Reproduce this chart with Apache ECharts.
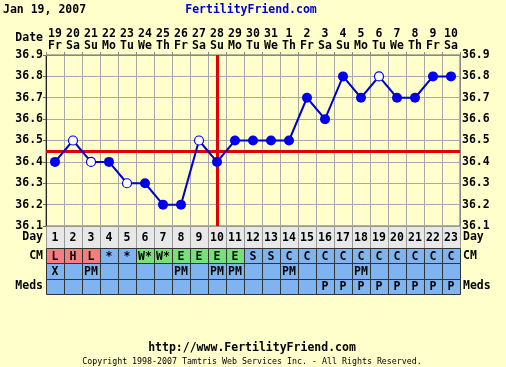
<!DOCTYPE html>
<html><head><meta charset="utf-8">
<script src="https://cdn.jsdelivr.net/npm/echarts@6/dist/echarts.min.js"></script>
<style>html,body{margin:0;padding:0;background:#ffffcc}#c{width:506px;height:367px}</style>
</head><body><div id="c"></div>
<script>
// ---- data ----
const dates = ['19','20','21','22','23','24','25','26','27','28','29','30','31','1','2','3','4','5','6','7','8','9','10'];
const weekdays = ['Fr','Sa','Su','Mo','Tu','We','Th','Fr','Sa','Su','Mo','Tu','We','Th','Fr','Sa','Su','Mo','Tu','We','Th','Fr','Sa'];
const cycleDays = ['1','2','3','4','5','6','7','8','9','10','11','12','13','14','15','16','17','18','19','20','21','22','23'];
const temps = [36.4,36.5,36.4,36.4,36.3,36.3,36.2,36.2,36.5,36.4,36.5,36.5,36.5,36.5,36.7,36.6,36.8,36.7,36.8,36.7,36.7,36.8,36.8];
const openDays = [2,3,5,9,19];
const cm = ['L','H','L','*','*','W*','W*','E','E','E','E','S','S','C','C','C','C','C','C','C','C','C','C'];
const bd = ['X','','PM','','','','','PM','','PM','PM','','','PM','','','','PM','','','','',''];
const meds = ['','','','','','','','','','','','','','','','P','P','P','P','P','P','P','P'];
const tableRows = ['CM','BD','Meds'];
const yTicks = {min:36.1, max:36.9, step:0.1};
const coverline = 36.45;
const ovulationIndex = 9;

// ---- styles ----
const FONT = '"DejaVu Sans Mono", monospace';
const FS = 11.5;
const bold = {fontFamily: FONT, fontWeight: 'bold', fontSize: FS, color: '#000'};
const cmColor = {'L':'#f08080','H':'#f08080','*':'#80b4f0','W*':'#78e078','E':'#78e078','S':'#80b4f0','C':'#80b4f0'};
const BLUE = '#80b4f0';

const dayCells = cycleDays.map((d,i)=>({text:d, fill:'#e8e8e8', stroke:'#999'}));
const tableCells = [];
[cm, bd, meds].forEach((row, r) => row.forEach((t, i) => {
  tableCells.push({col:i, row:r, text:t, fill: r===0 ? (cmColor[t]||BLUE) : BLUE, stroke:'#333'});
}));

function cellRender(cells){
  return function(params, api){
    const cell = cells[params.dataIndex];
    const c = api.coord([api.value(0), api.value(1)]);
    const s = api.size([1,1]);
    const x0 = Math.round(c[0]-s[0]/2)+0.5, y0 = Math.round(c[1]-s[1]/2)+0.5;
    const x1 = Math.round(c[0]+s[0]/2)+0.5, y1 = Math.round(c[1]+s[1]/2)+0.5;
    return {type:'group', children:[
      {type:'rect', shape:{x:x0, y:y0, width:x1-x0, height:y1-y0}, style:{fill:cell.fill, stroke:cell.stroke, lineWidth:1}},
      {type:'text', x:c[0], y:c[1]+1, style:{text:cell.text, align:'center', verticalAlign:'middle', font:'bold '+FS+'px '+FONT, fill:'#000'}}
    ]};
  };
}

const lineData = temps.map((v,i)=>{
  const open = openDays.indexOf(i+1) >= 0;
  return {value:v, symbolSize: open ? 9 : 10,
    itemStyle: open ? {color:'#ffffff', borderColor:'#0000ee', borderWidth:1.2} : {color:'#0000ee', borderColor:'#0000ee', borderWidth:0}};
});

const chart = echarts.init(document.getElementById('c'));
chart.setOption({
  backgroundColor:'#ffffcc',
  animation:false,
  grid:[
    {left:46, top:55, width:414, height:171, show:true, backgroundColor:'#ffffcc', borderColor:'#666', borderWidth:1},
    {left:46, top:226, width:414, height:22, show:false},
    {left:46, top:248, width:414, height:46, show:false}
  ],
  xAxis:[
    {type:'category', gridIndex:0, position:'top', data: dates.map((d,i)=>d+'\n'+weekdays[i]),
     axisLine:{show:true, lineStyle:{color:'#888'}}, axisTick:{show:true, length:3, lineStyle:{color:'#888'}},
     axisLabel:Object.assign({}, bold, {margin:3, lineHeight:12, interval:0}),
     splitLine:{show:true, lineStyle:{color:'#a8a8a8', width:1}}},
    {type:'category', gridIndex:1, data:cycleDays, show:false},
    {type:'category', gridIndex:2, data:cycleDays, show:false}
  ],
  yAxis:[
    {type:'value', gridIndex:0, position:'left', min:yTicks.min, max:yTicks.max, interval:yTicks.step,
     axisLine:{show:true, lineStyle:{color:'#222'}}, axisTick:{show:true, length:3, lineStyle:{color:'#666'}},
     axisLabel:Object.assign({}, bold, {margin:3, formatter:v=>v.toFixed(1)}),
     splitLine:{show:true, lineStyle:{color:'#a8a8a8', width:1}}},
    {type:'value', gridIndex:0, position:'right', min:yTicks.min, max:yTicks.max, interval:yTicks.step,
     axisLine:{show:true, lineStyle:{color:'#888'}}, axisTick:{show:false},
     axisLabel:Object.assign({}, bold, {margin:2, formatter:v=>v.toFixed(1)}),
     splitLine:{show:false}},
    {type:'category', gridIndex:1, position:'left', data:['Day'], axisLine:{show:false}, axisTick:{show:false},
     axisLabel:Object.assign({}, bold, {margin:3})},
    {type:'category', gridIndex:1, position:'right', data:['Day'], axisLine:{show:false}, axisTick:{show:false},
     axisLabel:Object.assign({}, bold, {margin:3})},
    {type:'category', gridIndex:2, position:'left', inverse:true, data:tableRows, axisLine:{show:false}, axisTick:{show:false},
     axisLabel:Object.assign({}, bold, {margin:3})},
    {type:'category', gridIndex:2, position:'right', inverse:true, data:tableRows, axisLine:{show:false}, axisTick:{show:false},
     axisLabel:Object.assign({}, bold, {margin:3})}
  ],
  series:[
    {type:'line', xAxisIndex:0, yAxisIndex:0, data:lineData, symbol:'circle', z:5,
     lineStyle:{color:'#0000cc', width:2}, itemStyle:{color:'#0000ee'},
     markLine:{silent:true, symbol:'none', label:{show:false}, z:3,
       lineStyle:{color:'#e00000', width:3, type:'solid'},
       data:[{xAxis:ovulationIndex}, {yAxis:coverline}]}},
    {type:'custom', xAxisIndex:1, yAxisIndex:2, data:cycleDays.map((d,i)=>[i,0]), renderItem:cellRender(dayCells), z:2},
    {type:'custom', xAxisIndex:2, yAxisIndex:4, data:tableCells.map(c=>[c.col,c.row]), renderItem:cellRender(tableCells), z:2}
  ],
  graphic:[
    {type:'text', x:3, y:10, style:{text:'Jan 19, 2007', font:'bold '+FS+'px '+FONT, fill:'#000', align:'left', verticalAlign:'middle'}},
    {type:'text', x:251, y:10, style:{text:'FertilityFriend.com', font:'bold '+FS+'px '+FONT, fill:'#0000cc', align:'center', verticalAlign:'middle'}},
    {type:'text', x:43, y:38, style:{text:'Date', font:'bold '+FS+'px '+FONT, fill:'#000', align:'right', verticalAlign:'middle'}},
    {type:'text', x:252, y:348, style:{text:'http://www.FertilityFriend.com', font:'bold '+FS+'px '+FONT, fill:'#000', align:'center', verticalAlign:'middle'}},
    {type:'text', x:252, y:362, style:{text:'Copyright 1998-2007 Tamtris Web Services Inc. - All Rights Reserved.', font:'8.3px '+FONT, fill:'#000', align:'center', verticalAlign:'middle'}}
  ]
});
</script></body></html>
